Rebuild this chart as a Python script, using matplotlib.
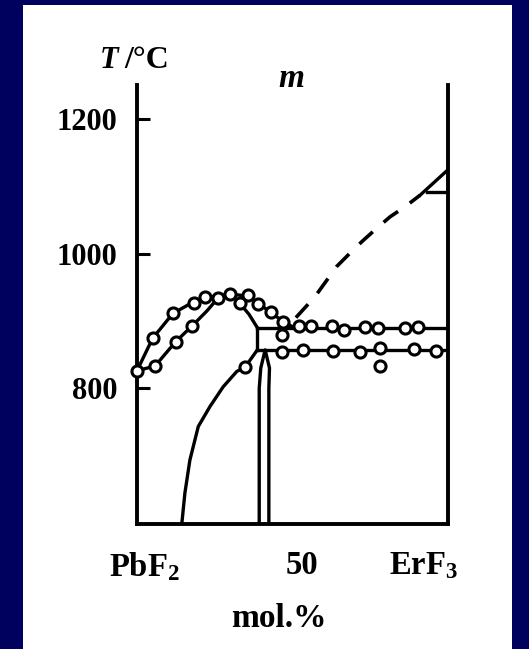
import matplotlib.pyplot as plt
from matplotlib.patches import Rectangle

plt.rcParams['font.family'] = ['Liberation Serif', 'DejaVu Serif']
plt.rcParams['font.weight'] = 'bold'
plt.rcParams['mathtext.fontset'] = 'custom'
plt.rcParams['mathtext.rm'] = 'Liberation Serif:bold'
plt.rcParams['mathtext.bf'] = 'Liberation Serif:bold'
plt.rcParams['mathtext.it'] = 'Liberation Serif:bold:italic'
plt.rcParams['mathtext.default'] = 'rm'

# liquidus (upper curve, through the maximum)
liq_x = [0, 5.0, 11.5, 18.0, 24.0, 30.0, 35.6, 39.0, 43.0, 47.0, 50.5]
liq_t = [826, 874, 911, 928, 936, 940, 937, 926, 913, 899, 890]
# solidus, left branch
sol_l_x = [0, 5.8, 12.4, 17.8, 22.5, 26.0]
sol_l_t = [826, 833, 869, 893, 915, 934]
# solidus, right branch down to the corner
sol_r_x = [30.0, 33.1, 36.0, 38.7]
sol_r_t = [940, 926, 910, 890]
# lower curve from the bottom up to the corner
low_x = [14.4, 15.4, 17.0, 19.7, 23.5, 27.7, 32.1, 34.7, 38.7]
low_t = [598, 644, 693, 743, 773, 802, 825, 831, 857]
# horizontals and the short vertical
x_corner = 38.7
t_upper = 890
t_lower = 857
# dashed liquidus of ErF3
dash_x = [51.1, 57.2, 64.2, 68.5, 72.3, 77.1, 81.4, 86.2, 91.0]
dash_t = [905, 936, 981, 1001, 1018, 1038, 1055, 1070, 1087]
# small triangle at ErF3
tri_x = [91.0, 100.0]
tri_t = [1087, 1125]
tri_h_x = [93.2, 100.0]
tri_h_t = [1092, 1092]
# arrow (compound)
arr_x = [39.3, 39.3, 39.8, 41.2, 42.6, 42.4, 42.4]
arr_t = [598, 800, 830, 857, 830, 800, 598]

# measured points
pts_x = [0, 5.0, 11.5, 18.3, 21.9, 25.9, 29.9, 35.6, 39.0, 43.0, 47.0,
         52.1, 55.9, 62.6, 66.7, 73.3, 77.6, 86.3, 90.3,
         5.8, 12.4, 17.8, 33.1, 46.5,
         34.7, 46.6, 53.5, 62.9, 71.8, 78.0, 78.2, 89.1, 96.0]
pts_t = [826, 874, 912, 927, 936, 934, 940, 938, 925, 913, 899,
         892, 892, 892, 886, 891, 890, 889, 891,
         833, 869, 893, 926, 879,
         831, 854, 857, 855, 854, 860, 833, 859, 855]

xtick_pos = [2.5, 53, 92]
xtick_labels = ['PbF$_2$', '50', 'ErF$_3$']
ytick_pos = [800, 1000, 1200]

fig = plt.figure(figsize=(5.29, 6.49), dpi=100)
fig.patch.set_facecolor('#00005e')
fig.patches.append(Rectangle((23 / 529, 0), (512 - 23) / 529, 1 - 5 / 649,
                             transform=fig.transFigure, facecolor='white',
                             edgecolor='none', zorder=-10))

ax = fig.add_axes([137 / 529, 1 - 524 / 649, (448 - 137) / 529, (524 - 85) / 649])
ax.set_facecolor('none')
ax.set_xlim(0, 100)
ax.set_ylim(598, 1251)
for s in ['left', 'right', 'bottom']:
    ax.spines[s].set_linewidth(2.8)
ax.spines['top'].set_visible(False)

lw = 2.4
ax.plot(liq_x, liq_t, color='black', lw=lw, zorder=2)
ax.plot(sol_l_x, sol_l_t, color='black', lw=lw, zorder=2)
ax.plot(sol_r_x, sol_r_t, color='black', lw=lw, zorder=2)
ax.plot(low_x, low_t, color='black', lw=lw, zorder=2)
ax.plot([x_corner, 100], [t_upper, t_upper], color='black', lw=lw, zorder=2)
ax.plot([x_corner, 100], [t_lower, t_lower], color='black', lw=lw, zorder=2)
ax.plot([x_corner, x_corner], [t_lower, t_upper], color='black', lw=lw, zorder=2)
ax.plot(dash_x, dash_t, color='black', lw=2.6, dashes=(5, 4), zorder=2)
ax.plot(tri_x, tri_t, color='black', lw=lw, zorder=2)
ax.plot(tri_h_x, tri_h_t, color='black', lw=lw, zorder=2)
ax.plot(arr_x, arr_t, color='black', lw=lw, zorder=2)
ax.plot(pts_x, pts_t, 'o', ms=8, mfc='white', mec='black', mew=2.2,
        zorder=3, clip_on=False)

ax.set_yticks(ytick_pos)
ax.set_yticklabels([str(v) for v in ytick_pos])
ax.tick_params(axis='y', direction='in', length=9, width=2.2, pad=14,
               labelsize=22)
ax.set_xticks(xtick_pos)
ax.set_xticklabels(xtick_labels)
ax.tick_params(axis='x', length=0, pad=19, labelsize=23.5)
ax.set_xticks([53], minor=True)
ax.tick_params(axis='x', which='minor', direction='in', length=9, width=2.2)

fig.text(100 / 529, 1 - 68 / 649, 'T', style='italic', fontsize=22,
         ha='left', va='baseline')
fig.text(124 / 529, 1 - 68 / 649, '/°C', fontsize=23, ha='left',
         va='baseline')
fig.text(291 / 529, 1 - 87 / 649, 'm', style='italic', fontsize=24,
         ha='center', va='baseline')
fig.text(279 / 529, 1 - 627 / 649, 'mol.%', fontsize=24, ha='center',
         va='baseline')

fig.savefig('out.png', dpi=100, facecolor=fig.get_facecolor())
